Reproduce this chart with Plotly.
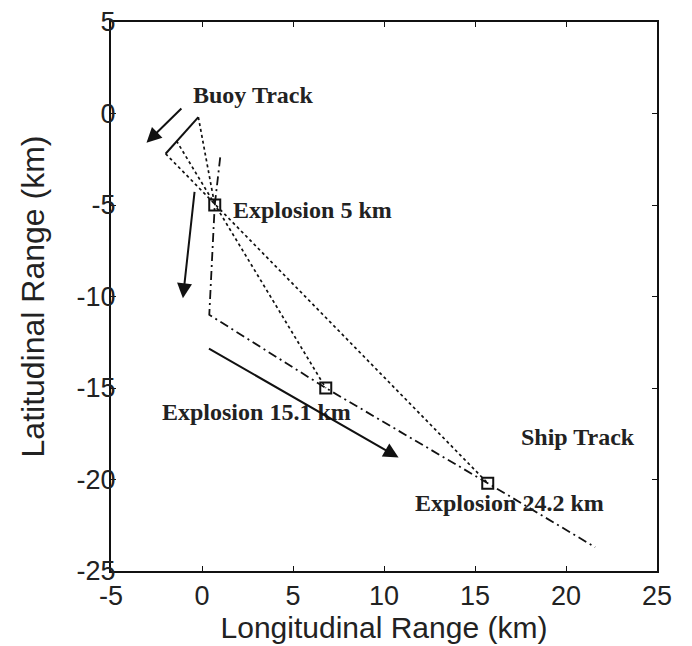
import plotly.graph_objects as go

# ---- data (km) ----
buoy_track_x = [-0.2, -2.0]
buoy_track_y = [-0.2, -2.2]

ship_track_x = [1.0, 0.7, 0.4, 6.8, 15.7, 21.6]
ship_track_y = [-2.4, -5.0, -11.0, -15.0, -20.2, -23.7]

explosion_x = [0.7, 6.8, 15.7]
explosion_y = [-5.0, -15.0, -20.2]
explosion_labels = ["Explosion 5 km", "Explosion 15.1 km", "Explosion 24.2 km"]
explosion_label_x = [1.6, -2.3, 11.6]
explosion_label_y = [-5.3, -16.3, -21.3]

# buoy position at each explosion time
buoy_at_expl_x = [-0.2, -1.4, -2.0]
buoy_at_expl_y = [-0.2, -1.5, -2.2]

# direction arrows: tail -> tip
arrow_tail_x = [-1.05, -0.4, 0.3]
arrow_tail_y = [0.35, -4.2, -12.8]
arrow_tip_x = [-3.05, -1.05, 10.8]
arrow_tip_y = [-1.6, -10.1, -18.8]

track_labels = ["Buoy Track", "Ship Track"]
track_label_x = [-0.6, 17.4]
track_label_y = [1.0, -17.7]

x_ticks = [-5, 0, 5, 10, 15, 20, 25]
x_tick_text = ["-5", "0", "5", "10", "15", "20", "25"]
y_ticks = [5, 0, -5, -10, -15, -20, -25]
y_tick_text = ["5", "0", "-5", "-10", "-15", "-20", "-25"]

fig = go.Figure()

# dotted range lines buoy -> explosion
for bx, by, ex, ey in zip(buoy_at_expl_x, buoy_at_expl_y, explosion_x, explosion_y):
    fig.add_trace(go.Scatter(x=[bx, ex], y=[by, ey], mode="lines",
                             line=dict(color="#111", width=1.7, dash="dot"),
                             showlegend=False, hoverinfo="skip"))

# buoy track
fig.add_trace(go.Scatter(x=buoy_track_x, y=buoy_track_y, mode="lines",
                         line=dict(color="#111", width=2),
                         showlegend=False))

# ship track
fig.add_trace(go.Scatter(x=ship_track_x, y=ship_track_y, mode="lines",
                         line=dict(color="#111", width=1.8, dash="9px,4px,2px,4px"),
                         showlegend=False))

# explosions
fig.add_trace(go.Scatter(x=explosion_x, y=explosion_y, mode="markers",
                         marker=dict(symbol="square-open", size=11, color="#111",
                                     line=dict(width=2, color="#111")),
                         showlegend=False))

serif = dict(family="Liberation Serif, Times New Roman, serif", size=24, color="#222")

annotations = []
for t, x, y in zip(explosion_labels, explosion_label_x, explosion_label_y):
    annotations.append(dict(x=x, y=y, xref="x", yref="y", text="<b>%s</b>" % t,
                            showarrow=False, xanchor="left", yanchor="middle", font=serif))
for t, x, y in zip(track_labels, track_label_x, track_label_y):
    annotations.append(dict(x=x, y=y, xref="x", yref="y", text="<b>%s</b>" % t,
                            showarrow=False, xanchor="left", yanchor="middle", font=serif))
for tx, ty, hx, hy in zip(arrow_tail_x, arrow_tail_y, arrow_tip_x, arrow_tip_y):
    annotations.append(dict(x=hx, y=hy, ax=tx, ay=ty, xref="x", yref="y",
                            axref="x", ayref="y", text="", showarrow=True,
                            arrowhead=2, arrowsize=1.5, arrowwidth=2,
                            arrowcolor="#111"))

tickfont = dict(family="Liberation Sans, Arial, sans-serif", size=27, color="#222")

# page body has an 8px margin, so the figure is 8px smaller than the window
fig.update_layout(
    width=684, height=638,
    margin=dict(l=103, r=35, t=14, b=75, autoexpand=False),
    plot_bgcolor="white", paper_bgcolor="white",
    annotations=annotations,
    xaxis=dict(range=[-5, 25], tickvals=x_ticks, ticktext=x_tick_text,
               showgrid=False, zeroline=False, automargin=False,
               showline=True, linecolor="#111", linewidth=2, mirror="ticks",
               ticks="inside", ticklen=5, tickcolor="#111", tickfont=tickfont,
               ticklabeloverflow="allow",
               title=dict(text="Longitudinal Range (km)",
                          font=dict(family="Liberation Sans, Arial, sans-serif",
                                    size=30, color="#222"), standoff=0)),
    yaxis=dict(range=[-25, 5], tickvals=y_ticks, ticktext=y_tick_text,
               showgrid=False, zeroline=False, automargin=False,
               showline=True, linecolor="#111", linewidth=2, mirror="ticks",
               ticks="inside", ticklen=5, tickcolor="#111", tickfont=tickfont,
               ticklabelstandoff=-12, ticklabeloverflow="allow",
               title=dict(text="Latitudinal Range (km)",
                          font=dict(family="Liberation Sans, Arial, sans-serif",
                                    size=32, color="#222"), standoff=22)),
)

fig.write_html("out.html")
